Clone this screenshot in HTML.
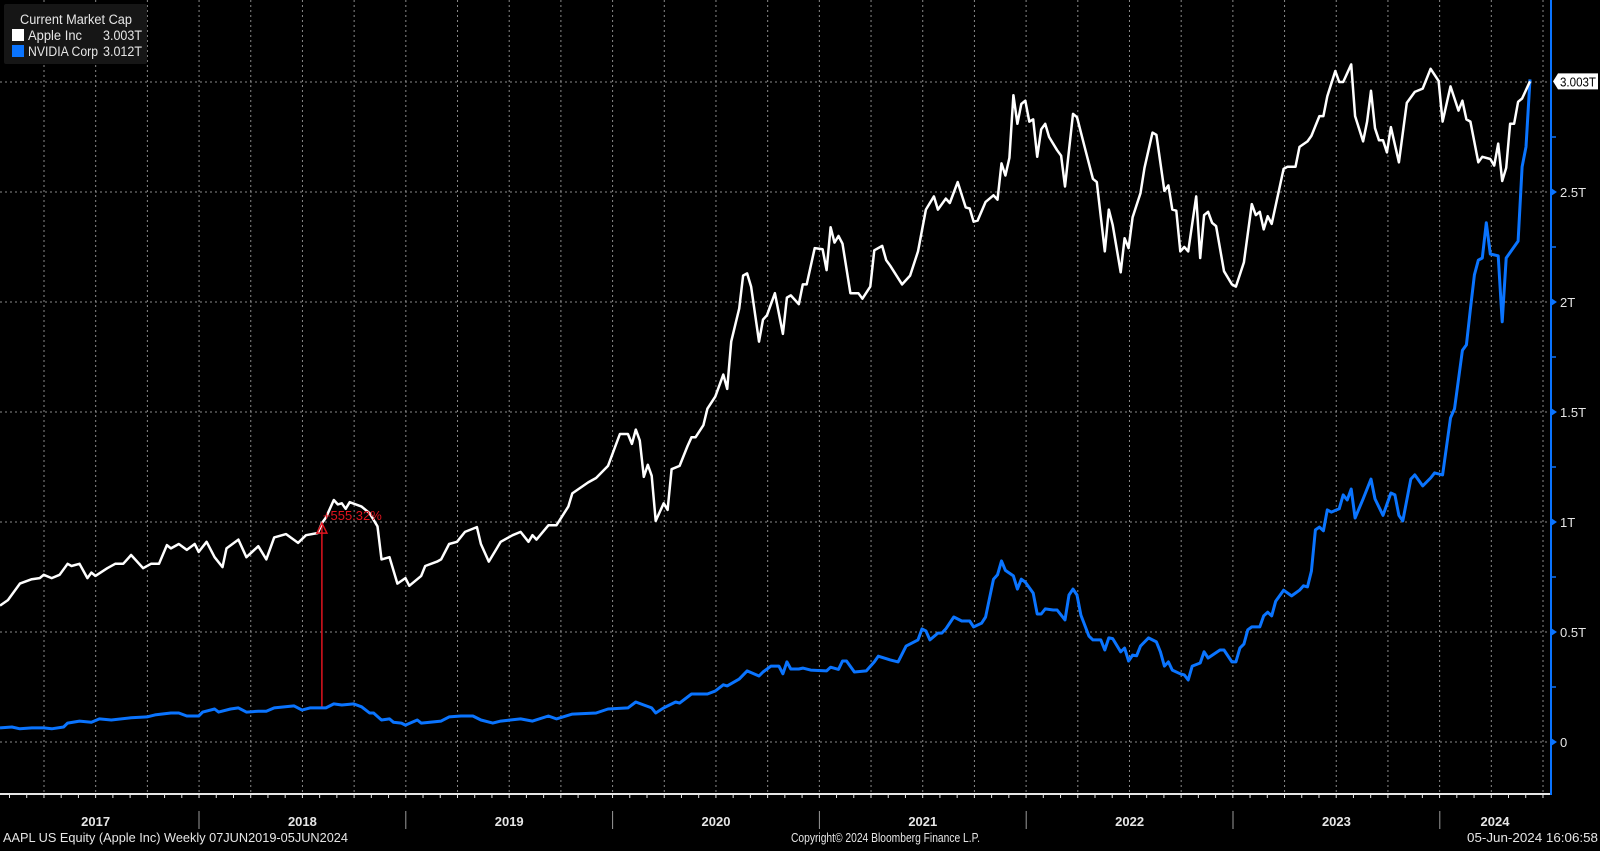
<!DOCTYPE html>
<html><head><meta charset="utf-8"><style>
html,body{margin:0;padding:0;background:#000;}
body{width:1600px;height:846px;overflow:hidden;font-family:"Liberation Sans",sans-serif;}
svg text{font-family:"Liberation Sans",sans-serif;}
</style></head><body>
<svg id="chart" width="1600" height="846" xmlns="http://www.w3.org/2000/svg">
<rect x="0" y="0" width="1600" height="846" fill="#000"/>
<g id="grid"></g>
<g id="series"></g>
<g id="axes"></g>
<g id="legend">
 <rect x="4" y="4" width="143" height="60" fill="#161616" rx="2"/>
 <text x="20" y="24" fill="#e6e6e6" font-size="13.5" textLength="112" lengthAdjust="spacingAndGlyphs">Current Market Cap</text>
 <rect x="12" y="29" width="12" height="12" fill="#fff"/>
 <text x="28" y="40" fill="#e6e6e6" font-size="13.5" textLength="54" lengthAdjust="spacingAndGlyphs">Apple Inc</text>
 <text x="103" y="40" fill="#e6e6e6" font-size="13.5" textLength="39" lengthAdjust="spacingAndGlyphs">3.003T</text>
 <rect x="12" y="45" width="12" height="12" fill="#0a74ff"/>
 <text x="28" y="56" fill="#e6e6e6" font-size="13.5" textLength="70" lengthAdjust="spacingAndGlyphs">NVIDIA Corp</text>
 <text x="103" y="56" fill="#e6e6e6" font-size="13.5" textLength="39" lengthAdjust="spacingAndGlyphs">3.012T</text>
</g>
<text x="3" y="842" fill="#e6e6e6" font-size="12.5" textLength="345" lengthAdjust="spacingAndGlyphs">AAPL US Equity (Apple Inc)  Weekly 07JUN2019-05JUN2024</text>
<text x="791" y="842" fill="#e6e6e6" font-size="12.5" textLength="189" lengthAdjust="spacingAndGlyphs">Copyright© 2024 Bloomberg Finance L.P.</text>
<text x="1467" y="842" fill="#e6e6e6" font-size="12.5" textLength="131" lengthAdjust="spacingAndGlyphs">05-Jun-2024 16:06:58</text>
</svg>
<script>
const yearLabels=["2017","2018","2019","2020","2021","2022","2023","2024"];
const yTickValues=[0,0.5,1,1.5,2,2.5];
const yTickLabels=["0","0.5T","1T","1.5T","2T","2.5T"];
const appleWeeks=[0,2,5,8,10,11,13,15,17,18,20,22,23,24,27,29,31,33,34,36,38,40,42,43,45,47,49,50,52,54,56,57,60,62,65,67,69,70,72,75,77,80,81,82,84,85,86,87,88,91,93,95,96,98,100,
102,103,106,107,110,111,113,115,117,120,121,123,125,126,129,131,133,134,135,138,140,143,144,148,150,153,156,158,159,160,161,162,163,164,165,167,168,169,171,173,174,175,177,178,180,182,183,184,186,187,188,189,191,192,193,195,197,198,199,201,
202,203,205,207,208,209,210,211,212,214,216,217,219,220,222,223,224,227,229,231,233,235,236,238,239,241,243,244,245,246,248,250,251,252,253,254,255,256,257,258,259,260,261,262,263,264,266,267,268,270,271,273,275,276,278,279,280,282,283,284,285,287,288,290,291,293,294,295,296,297,298,299,301,302,
303,304,305,306,308,310,311,313,315,316,317,318,319,320,323,324,326,327,329,330,332,333,334,336,337,338,340,341,343,344,345,346,347,348,349,350,352,354,356,358,360,362,363,365,367,368,369,370,372,373,375,376,377,378,379,380,381,382,383,385];
const appleValues=[0.62,0.645,0.72,0.74,0.745,0.76,0.745,0.76,0.81,0.80,0.81,0.745,0.77,0.755,0.79,0.81,0.81,0.85,0.83,0.79,0.81,0.81,0.895,0.88,0.9,0.873,0.9,0.864,0.91,0.84,0.795,0.88,0.92,0.84,0.89,0.83,0.93,0.935,0.945,0.905,0.94,0.95,0.995,1.02,1.10,1.08,1.085,1.06,1.09,1.07,1.04,0.98,0.83,0.84,0.72,
0.745,0.71,0.755,0.80,0.82,0.83,0.9,0.91,0.955,0.977,0.9,0.82,0.88,0.91,0.94,0.955,0.91,0.94,0.92,0.985,0.985,1.07,1.13,1.18,1.20,1.255,1.40,1.40,1.355,1.42,1.37,1.205,1.26,1.21,1.005,1.085,1.055,1.24,1.255,1.345,1.385,1.385,1.44,1.515,1.57,1.67,1.605,1.82,1.97,2.12,2.13,2.07,1.82,1.92,1.94,2.04,1.855,2.02,2.03,1.99,
2.08,2.08,2.245,2.24,2.145,2.34,2.27,2.30,2.265,2.04,2.04,2.015,2.07,2.235,2.255,2.19,2.165,2.08,2.12,2.23,2.42,2.48,2.42,2.47,2.45,2.545,2.43,2.425,2.365,2.37,2.455,2.485,2.465,2.63,2.575,2.655,2.94,2.81,2.90,2.915,2.82,2.83,2.66,2.785,2.81,2.75,2.69,2.665,2.525,2.855,2.84,2.70,2.56,2.545,2.23,2.42,2.35,2.135,2.29,2.245,2.385,2.495,2.61,2.77,2.76,2.505,2.53,2.42,2.415,2.23,2.25,2.23,2.48,2.20,
2.395,2.41,2.36,2.345,2.14,2.08,2.07,2.18,2.445,2.395,2.41,2.33,2.39,2.355,2.605,2.615,2.615,2.705,2.73,2.755,2.845,2.845,2.935,3.05,3.0,3.0,3.08,2.845,2.73,2.82,2.96,2.79,2.735,2.735,2.68,2.795,2.635,2.905,2.955,2.97,3.06,3.005,2.82,2.98,2.87,2.915,2.83,2.82,2.635,2.66,2.65,2.62,2.72,2.55,2.61,2.81,2.81,2.91,2.925,3.003];
const nvdaWeeks=[0,3,5,8,11,13,16,17,20,23,25,28,33,37,39,43,45,47,50,51,54,55,58,60,62,65,67,69,74,76,78,82,84,86,89,91,93,94,96,98,99,101,
102,105,106,111,113,116,119,121,124,126,131,134,138,140,144,150,153,158,160,162,164,165,167,170,171,174,178,180,182,183,186,188,191,192,194,196,197,198,199,201,
202,204,208,209,211,212,213,215,218,220,221,224,226,228,231,232,233,234,236,237,238,240,242,244,245,247,248,250,251,252,253,255,256,257,258,260,261,262,263,265,266,268,269,270,271,272,274,275,277,278,279,280,282,283,284,285,286,287,289,291,292,293,294,295,297,298,299,300,302,
303,304,307,308,310,311,312,313,314,315,317,318,319,320,321,323,325,327,328,329,330,331,332,333,334,335,337,338,339,340,341,343,345,346,348,350,351,352,353,355,356,358,360,361,363,365,366,368,369,370,371,372,373,374,375,377,378,379,382,383,384,385];
const nvdaValues=[0.064,0.068,0.06,0.064,0.064,0.06,0.068,0.086,0.095,0.09,0.105,0.1,0.11,0.114,0.123,0.132,0.132,0.118,0.118,0.136,0.15,0.136,0.15,0.155,0.136,0.14,0.14,0.155,0.164,0.145,0.155,0.155,0.173,0.168,0.173,0.16,0.132,0.132,0.1,0.105,0.09,0.086,
0.077,0.1,0.086,0.095,0.114,0.118,0.118,0.1,0.086,0.095,0.105,0.095,0.118,0.105,0.127,0.132,0.15,0.155,0.182,0.168,0.155,0.132,0.155,0.182,0.177,0.218,0.218,0.232,0.26,0.255,0.286,0.323,0.30,0.318,0.345,0.345,0.31,0.364,0.332,0.332,
0.336,0.327,0.323,0.34,0.33,0.368,0.368,0.318,0.323,0.364,0.39,0.373,0.364,0.436,0.464,0.514,0.505,0.464,0.495,0.495,0.514,0.568,0.55,0.55,0.523,0.54,0.568,0.74,0.76,0.823,0.78,0.755,0.695,0.74,0.727,0.677,0.582,0.582,0.605,0.60,0.60,0.555,0.668,0.695,0.668,0.577,0.482,0.464,0.464,0.418,0.473,0.47,0.41,0.427,0.368,0.395,0.392,0.436,0.473,0.455,0.41,0.345,0.364,0.327,0.31,0.305,0.282,0.345,0.359,
0.41,0.382,0.418,0.418,0.364,0.364,0.427,0.445,0.51,0.523,0.523,0.573,0.59,0.573,0.64,0.69,0.664,0.69,0.71,0.705,0.777,0.964,0.977,0.96,1.055,1.045,1.06,1.123,1.10,1.15,1.018,1.105,1.195,1.105,1.03,1.132,1.123,1.03,1.005,1.195,1.214,1.164,1.2,1.223,1.214,1.473,1.514,1.78,1.805,1.968,2.123,2.19,2.2,2.36,2.218,2.21,1.91,2.2,2.277,2.614,2.705,3.012];
const annotationWeek=81;
const annotationLabel="+555.32%";
const lastAppleLabel="3.003T";

const NS="http://www.w3.org/2000/svg";
const X0=0, PX_PER_WEEK=1530/385, Y0=742, PX_PER_T=220, AXIS_X=1551, AXIS_Y=794;
function xs(w){return X0+w*PX_PER_WEEK;}
function ys(v){return Y0-v*PX_PER_T;}
function mk(tag,attrs,parent){const e=document.createElementNS(NS,tag);for(const k in attrs)e.setAttribute(k,attrs[k]);parent.appendChild(e);return e;}
const grid=document.getElementById('grid'),axes=document.getElementById('axes'),series=document.getElementById('series');
for(let k=0;k<30;k++){const x=44+k*51.69;
 const l=mk('line',{x1:x,x2:x,y1:0,y2:AXIS_Y,stroke:'#8a8a8a','stroke-width':1,'stroke-dasharray':'2,3'},grid);
 
 }
[0,0.5,1,1.5,2,2.5,3].forEach(v=>{const y=ys(v);
 const l=mk('line',{x1:0,x2:AXIS_X-4,y1:y,y2:y,stroke:'#8a8a8a','stroke-width':1,'stroke-dasharray':'2,3'},grid);
 
 });
function draw(weeks,vals,color,w,name){let d='';const n=Math.min(weeks.length,vals.length);
 for(let i=0;i<n;i++)d+=(i?'L':'M')+xs(weeks[i]).toFixed(1)+','+ys(vals[i]).toFixed(1);
 const p=mk('path',{d:d,fill:'none',stroke:color,'stroke-width':w,'stroke-linejoin':'round'},series);
 
 }
const ai=appleWeeks.indexOf(annotationWeek);
const ax=xs(annotationWeek), ayTop=ys(appleValues[ai]), ni=nvdaWeeks.findIndex(w=>w>=annotationWeek);
const ayBot=ys(nvdaValues[ni]);
const al=mk('line',{x1:ax,x2:ax,y1:ayTop,y2:ayBot,stroke:'#e0141e','stroke-width':1.5},series);


draw(nvdaWeeks,nvdaValues,'#0a74ff',3,'nvidia-line');
draw(appleWeeks,appleValues,'#ffffff',2.5,'apple-line');
const at=mk('path',{d:`M${ax},${ayTop} L${ax-5},${ayTop+10} L${ax+5},${ayTop+10} Z`,fill:'none',stroke:'#e0141e','stroke-width':1.5},series);


const atx=mk('text',{x:ax+1,y:ayTop-3,fill:'#e0141e','font-size':13},series);
atx.textContent=annotationLabel;


const xl=mk('line',{x1:0,x2:AXIS_X,y1:AXIS_Y,y2:AXIS_Y,stroke:'#e6e6e6','stroke-width':2},axes);


for(let x=9.5;x<AXIS_X;x+=17.23){const t=mk('line',{x1:x,x2:x,y1:AXIS_Y,y2:AXIS_Y+4,stroke:'#e6e6e6','stroke-width':1},axes);
 
 }
yearLabels.forEach((lab,i)=>{const sep=199+(i)*206.8;
 if(i<7){const s=mk('line',{x1:sep,x2:sep,y1:811,y2:829,stroke:'#9a9a9a','stroke-width':1},axes);
  
  }
 const cx=i<7?sep-103.4:1495;
 const t=mk('text',{x:cx,y:826,fill:'#e6e6e6','font-size':13,'font-weight':'bold','text-anchor':'middle'},axes);
 t.textContent=lab;
 
 });
const yl=mk('line',{x1:AXIS_X,x2:AXIS_X,y1:0,y2:AXIS_Y+1,stroke:'#0a74ff','stroke-width':2},axes);


for(let v=0.25;v<3.2;v+=0.5){const y=ys(v);const t=mk('line',{x1:AXIS_X,x2:AXIS_X+5,y1:y,y2:y,stroke:'#0a74ff','stroke-width':1.5},axes);
 
 }
yTickValues.forEach((v,i)=>{const y=ys(v);
 const tr=mk('path',{d:`M${AXIS_X},${y-4} L${AXIS_X+6},${y} L${AXIS_X},${y+4} Z`,fill:'#0a74ff'},axes);
 
 
 const t=mk('text',{x:AXIS_X+9,y:y+5,fill:'#e6e6e6','font-size':13},axes);
 t.textContent=yTickLabels[i];
 
 });
const lastY=ys(appleValues[appleValues.length-1]);
const lb=mk('path',{d:`M${AXIS_X+2},${lastY} L${AXIS_X+7},${lastY-8} L1598,${lastY-8} L1598,${lastY+8} L${AXIS_X+7},${lastY+8} Z`,fill:'#fff'},axes);


const lt=mk('text',{x:1560,y:lastY+5,fill:'#000','font-size':13,textLength:36,lengthAdjust:'spacingAndGlyphs'},axes);
lt.textContent=lastAppleLabel;


</script>
</body></html>
